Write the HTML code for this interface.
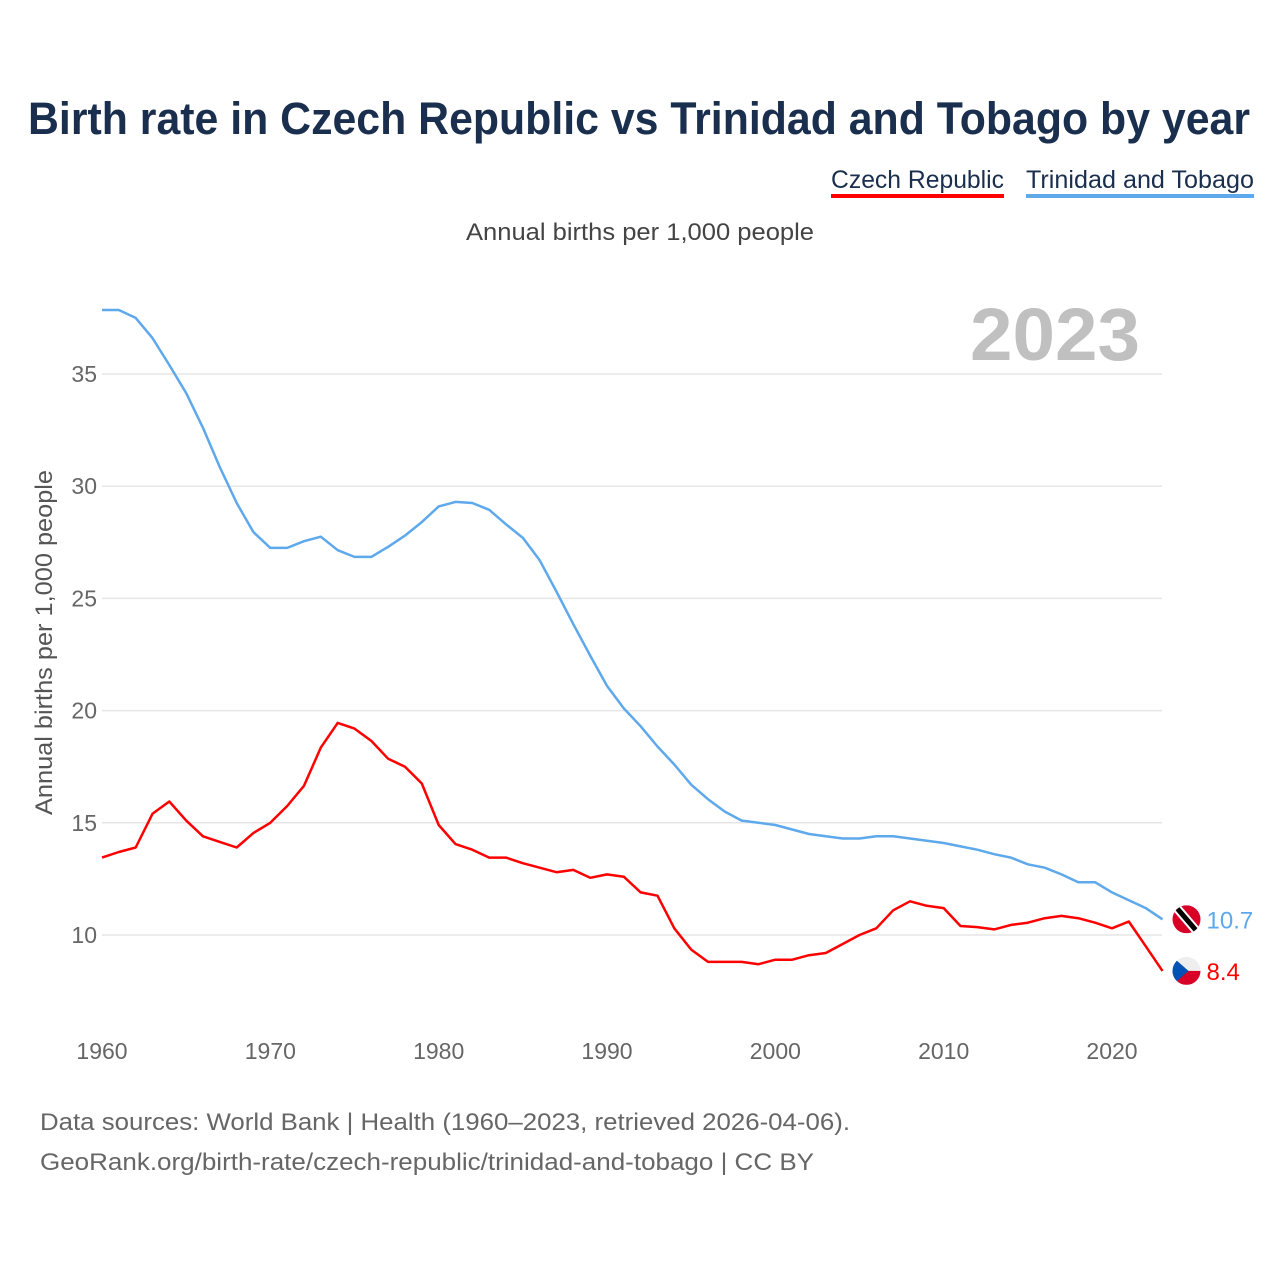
<!DOCTYPE html>
<html><head><meta charset="utf-8"><style>
body{margin:0;background:#fff;font-family:"Liberation Sans",sans-serif;}
svg text{font-family:"Liberation Sans",sans-serif;}
</style></head><body>
<svg id="chart" width="1280" height="1280" viewBox="0 0 1280 1280" xmlns="http://www.w3.org/2000/svg">
<text x="28" y="134" textLength="1222" lengthAdjust="spacingAndGlyphs" font-size="45" font-weight="bold" fill="#1a2e4e">Birth rate in Czech Republic vs Trinidad and Tobago by year</text>
<g><text x="831" y="188" textLength="173" lengthAdjust="spacingAndGlyphs" font-size="25" fill="#1a2e4e">Czech Republic</text><rect x="831" y="194" width="173" height="4" fill="#ff0000"/></g>
<g><text x="1026" y="188" textLength="228" lengthAdjust="spacingAndGlyphs" font-size="25" fill="#1a2e4e">Trinidad and Tobago</text><rect x="1026" y="194" width="228" height="4" fill="#5ea8ec"/></g>
<text x="466" y="240" textLength="348" lengthAdjust="spacingAndGlyphs" font-size="24" fill="#444">Annual births per 1,000 people</text>
<text x="970" y="360" textLength="170" lengthAdjust="spacingAndGlyphs" font-size="74" font-weight="bold" fill="#c0c0c0">2023</text>
<text transform="translate(52,815) rotate(-90)" textLength="345" lengthAdjust="spacingAndGlyphs" font-size="24" fill="#555">Annual births per 1,000 people</text>
<g id="grid"></g><g id="lines"></g><g id="labels"></g>
<text x="40" y="1130" textLength="810" lengthAdjust="spacingAndGlyphs" font-size="24" fill="#666">Data sources: World Bank | Health (1960–2023, retrieved 2026-04-06).</text>
<text x="40" y="1170" textLength="774" lengthAdjust="spacingAndGlyphs" font-size="24" fill="#666">GeoRank.org/birth-rate/czech-republic/trinidad-and-tobago | CC BY</text>
</svg>
<script>
const years=[];for(let y=1960;y<=2023;y++)years.push(y);
const czech=[13.45,13.7,13.9,15.4,15.95,15.1,14.4,14.15,13.9,14.55,15.0,15.75,16.65,18.35,19.45,19.2,18.65,17.85,17.5,16.75,14.9,14.05,13.8,13.45,13.45,13.2,13.0,12.8,12.9,12.55,12.7,12.6,11.9,11.75,10.3,9.35,8.8,8.8,8.8,8.7,8.9,8.9,9.1,9.2,9.6,10.0,10.3,11.1,11.5,11.3,11.2,10.4,10.35,10.25,10.45,10.55,10.75,10.85,10.75,10.55,10.3,10.6,9.5,8.4];
const trinidad=[37.85,37.85,37.5,36.6,35.4,34.15,32.6,30.85,29.25,27.95,27.25,27.25,27.55,27.75,27.15,26.85,26.85,27.3,27.8,28.4,29.1,29.3,29.25,28.95,28.3,27.7,26.7,25.3,23.85,22.45,21.1,20.1,19.3,18.4,17.6,16.7,16.05,15.5,15.1,15.0,14.9,14.7,14.5,14.4,14.3,14.3,14.4,14.4,14.3,14.2,14.1,13.95,13.8,13.6,13.45,13.15,13.0,12.7,12.35,12.35,11.9,11.55,11.2,10.7];
const yTicks=[10,15,20,25,30,35];
const xTicks=[1960,1970,1980,1990,2000,2010,2020];
const xs=y=>102+(y-1960)*1010/60;
const ys=v=>935-(v-10)*22.44;
const NS="http://www.w3.org/2000/svg";
const mk=(t,a,p)=>{const e=document.createElementNS(NS,t);for(const k in a)e.setAttribute(k,a[k]);p.appendChild(e);return e;};
const grid=document.getElementById('grid'),lines=document.getElementById('lines'),labels=document.getElementById('labels');
yTicks.forEach(v=>{
 const l=mk('line',{x1:102,x2:1162,y1:ys(v),y2:ys(v),stroke:'#e6e6e6','stroke-width':1.5},grid);
 
 
 const t=mk('text',{x:97,y:ys(v)+8,'text-anchor':'end','font-size':23,fill:'#666'},grid);t.textContent=v;
 
 
});
xTicks.forEach(v=>{
 const t=mk('text',{x:xs(v),y:1059,'text-anchor':'middle','font-size':23,fill:'#666'},grid);t.textContent=v;
 
 
});
function line(data,color,name){
 const d=data.map((v,i)=>(i?'L':'M')+xs(years[i]).toFixed(1)+','+ys(v).toFixed(1)).join('');
 const p=mk('path',{d:d,fill:'none',stroke:color,'stroke-width':2.5,'stroke-linejoin':'round'},lines);
 
 
}
line(trinidad,'#5ea8ec','trinidad-line');
line(czech,'#ff0000','czech-line');
const lx=xs(2023);
const tv=trinidad[trinidad.length-1],cv=czech[czech.length-1];
const fy=ys(tv), cy=ys(cv);
const f1=mk('g',{},labels);


const cp1=mk('clipPath',{id:'c1'},f1);mk('circle',{cx:lx+24,cy:fy,r:14},cp1);
const g1=mk('g',{'clip-path':'url(#c1)'},f1);
mk('rect',{x:lx+10,y:fy-14,width:28,height:28,fill:'#d80027'},g1);
mk('line',{x1:lx+12,y1:fy-14,x2:lx+36,y2:fy+14,stroke:'#fff','stroke-width':9},g1);
mk('line',{x1:lx+12,y1:fy-14,x2:lx+36,y2:fy+14,stroke:'#000','stroke-width':5},g1);
const t1=mk('text',{x:lx+44,y:fy+9,'font-size':24,fill:'#5ea8ec'},labels);t1.textContent=tv.toFixed(1);


const f2=mk('g',{},labels);


const cp=mk('clipPath',{id:'c2'},f2);mk('circle',{cx:lx+24,cy:cy,r:14},cp);
const g2=mk('g',{'clip-path':'url(#c2)'},f2);
mk('rect',{x:lx+10,y:cy-14,width:28,height:14,fill:'#eee'},g2);
mk('rect',{x:lx+10,y:cy,width:28,height:14,fill:'#d80027'},g2);
mk('polygon',{points:`${lx+10},${cy-14} ${lx+26},${cy} ${lx+10},${cy+14}`,fill:'#0052b4'},g2);
const t2=mk('text',{x:lx+44,y:cy+9,'font-size':24,fill:'#ff0000'},labels);t2.textContent=cv.toFixed(1);


</script>
</body></html>
